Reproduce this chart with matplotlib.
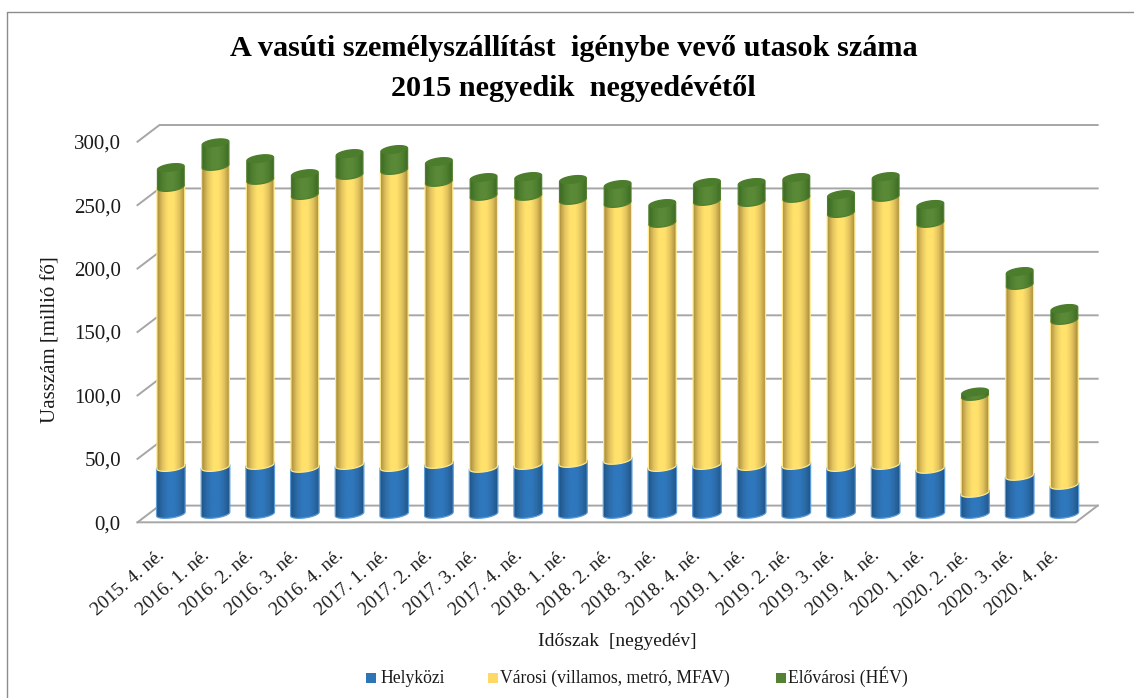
import numpy as np
import matplotlib
matplotlib.use('Agg')
import matplotlib.pyplot as plt
from matplotlib.colors import LinearSegmentedColormap
from matplotlib.lines import Line2D
from matplotlib.patches import Polygon, Rectangle
from matplotlib.transforms import ScaledTranslation

W, H = 1134, 698

quarters = ['2015. 4. né.', '2016. 1. né.', '2016. 2. né.', '2016. 3. né.',
            '2016. 4. né.', '2017. 1. né.', '2017. 2. né.', '2017. 3. né.',
            '2017. 4. né.', '2018. 1. né.', '2018. 2. né.', '2018. 3. né.',
            '2018. 4. né.', '2019. 1. né.', '2019. 2. né.', '2019. 3. né.',
            '2019. 4. né.', '2020. 1. né.', '2020. 2. né.', '2020. 3. né.',
            '2020. 4. né.']
helykozi = [37.0, 37.0, 38.6, 36.3, 38.6, 37.0, 39.4, 36.3, 38.6, 40.2, 42.6,
            37.0, 38.6, 37.8, 38.6, 37.0, 38.6, 35.5, 16.6, 30.0, 22.9]
varosi = [220.7, 237.3, 224.7, 215.1, 228.6, 234.1, 222.3, 214.4, 212.1, 207.3,
          202.5, 192.4, 208.1, 208.1, 210.5, 200.2, 211.3, 193.9, 76.4, 150.5, 130.0]
elovarosi = [15.0, 17.9, 16.4, 16.5, 16.5, 15.8, 15.7, 14.1, 14.9, 15.8, 14.2,
             14.9, 14.2, 15.0, 15.7, 14.2, 15.7, 14.2, 2.8, 10.2, 8.7]
y_ticks = [0, 50, 100, 150, 200, 250, 300]

plt.rcParams['font.family'] = ['Liberation Serif', 'DejaVu Serif']

GRID = '#a6a6a6'
TEXT = '#1a1a1a'

fig = plt.figure(figsize=(W / 100, H / 100), dpi=100)
left, right, top, bottom = 137.5, 1075.7, 141.7, 522.3
ax = fig.add_axes([left / W, 1 - bottom / H, (right - left) / W, (bottom - top) / H])
ax.patch.set_alpha(0)
for s in ax.spines.values():
    s.set_visible(False)

x_lim = (-0.5, len(quarters) - 0.5)
y_lim = (0, 300)
px_x = (x_lim[1] - x_lim[0]) / (right - left)
px_y = y_lim[1] / (bottom - top)
depth_x = 22 * px_x
depth_y = 16.7 * px_y


def draw_walls():
    x0, x1 = x_lim
    for v in y_ticks:
        ax.plot([x0, x0 + depth_x, x1 + depth_x], [v, v + depth_y, v + depth_y],
                color=GRID, lw=1.4, clip_on=False, zorder=1, solid_joinstyle='miter')
    ax.plot([x0, x1, x1 + depth_x], [0, 0, depth_y], color=GRID, lw=1.4,
            clip_on=False, zorder=1, solid_joinstyle='miter')


def arc(x, v, half_w, half_h, t0, t1):
    t = np.linspace(t0, t1, 40)
    xs = x + half_w * px_x * np.cos(t)
    ys = v + (half_h * np.sin(t) + 0.13 * half_w * np.cos(t)) * px_y
    return np.column_stack([xs, ys])


def cylinder(x, v0, v1, colors, edge, half_w=14.0, half_h=4.0, z=3):
    pts = np.vstack([arc(x, v0, half_w, half_h, np.pi, 2 * np.pi),
                     arc(x, v1, half_w, half_h, 0, np.pi)])
    cmap = LinearSegmentedColormap.from_list('c', colors)
    grad = np.linspace(0, 1, 64).reshape(1, -1)
    lo = pts[:, 1].min()
    hi = pts[:, 1].max()
    im = ax.imshow(grad, cmap=cmap, aspect='auto', zorder=z, interpolation='bilinear',
                   extent=[x - half_w * px_x, x + half_w * px_x, lo, hi])
    clip = Polygon(pts, closed=True, transform=ax.transData, fc='none', ec='none')
    ax.add_patch(clip)
    im.set_clip_box(fig.bbox)
    im.set_clip_path(clip)
    ax.add_patch(Polygon(pts, closed=True, fc='none', ec=edge, lw=0.9, zorder=z + 0.1,
                         clip_on=False))


blue_c = ['#1f5488', '#2b6ba8', '#2f78bd', '#2f78bd', '#2b6ba8', '#1f5488']
yellow_c = ['#a98c3c', '#e3c45e', '#ffe16c', '#ffe16c', '#e3c45e', '#a98c3c']
green_c = ['#3f6a24', '#4f8030', '#5a8a37', '#5a8a37', '#4f8030', '#3f6a24']

draw_walls()
cx_off = depth_x / 2
for i in range(len(quarters)):
    x = i + cx_off
    a = helykozi[i]
    b = a + varosi[i]
    c = b + elovarosi[i]
    base = depth_y / 2
    cylinder(x, base, base + a, blue_c, '#5a9bd8', half_w=14.3, z=3)
    cylinder(x, base + a, base + b, yellow_c, '#ffe98a', half_w=13.9, z=4)
    cylinder(x, base + b, base + c, green_c, '#4f7f2e', half_w=13.4, z=5)
    cap = Polygon(arc(x, base + c, 13.4, 3.8, 0, 2 * np.pi), closed=True, fc='#4c7d2d',
                  ec='none', zorder=6, clip_on=False)
    ax.add_patch(cap)

ax.set_xlim(x_lim)
ax.set_ylim(y_lim)
ax.set_yticks(y_ticks)
ax.set_yticklabels(['{:.1f}'.format(v).replace('.', ',') for v in y_ticks],
                   fontsize=15, color=TEXT)
ax.set_xticks(range(len(quarters)))
ax.set_xticklabels(quarters, rotation=41, ha='right', rotation_mode='anchor',
                   fontsize=13.9, color=TEXT)
ax.tick_params(axis='y', length=0, pad=12)
ax.tick_params(axis='x', length=0, pad=18)
shift = ScaledTranslation(-3 / 100, 0, fig.dpi_scale_trans)
for lab in ax.get_xticklabels():
    lab.set_transform(lab.get_transform() + shift)

fig.text(573.5 / W, 1 - 49 / H, 'A vasúti személyszállítást  igénybe vevő utasok száma',
         ha='center', va='center', fontsize=21.8, fontweight='bold', color='black')
fig.text(573.5 / W, 1 - 88 / H, '2015 negyedik  negyedévétől',
         ha='center', va='center', fontsize=21.8, fontweight='bold', color='black')
fig.text(51 / W, 1 - 340 / H, 'Uasszám [millió fő]', rotation=90, ha='center', va='center',
         fontsize=15, color=TEXT)
fig.text(617.5 / W, 1 - 642 / H, 'Időszak  [negyedév]', ha='center', va='center',
         fontsize=14, color=TEXT)

legend_names = ['Helyközi', 'Városi (villamos, metró, MFAV)', 'Elővárosi (HÉV)']
legend_colors = ['#2e75b6', '#ffd966', '#548235']
legend_x = [366, 488, 776]
legend_text_x = [380, 500, 788]
for name, col, lx, tx in zip(legend_names, legend_colors, legend_x, legend_text_x):
    fig.add_artist(Rectangle((lx / W, 1 - 683 / H), 10 / W, 10 / H, transform=fig.transFigure,
                             fc=col, ec='none'))
    fig.text(tx / W, 1 - 683 / H, name, ha='left', va='baseline', fontsize=12.7, color=TEXT)

fig.add_artist(Line2D([6.5 / W, 6.5 / W, 1], [0, 1 - 11.5 / H, 1 - 11.5 / H],
                      transform=fig.transFigure, color='#8c8c8c', lw=1.0))

fig.savefig('out.png', dpi=100)
